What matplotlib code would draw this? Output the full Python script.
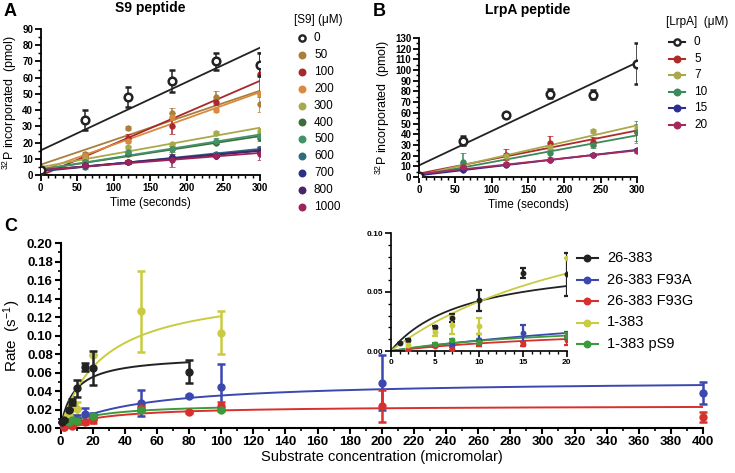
import numpy as np
import matplotlib
matplotlib.use("Agg")
import matplotlib.pyplot as plt
from matplotlib.lines import Line2D
from matplotlib.ticker import MultipleLocator, FormatStrFormatter

plt.rcParams['font.family'] = ['Liberation Sans', 'DejaVu Sans']
plt.rcParams['mathtext.fontset'] = 'custom'
plt.rcParams['mathtext.rm'] = 'Liberation Sans'
plt.rcParams['mathtext.it'] = 'Liberation Sans:italic'
plt.rcParams['mathtext.bf'] = 'Liberation Sans:bold'

# ---- panel A: S9 peptide, pmol vs time ----
time_s = [0, 60, 120, 180, 240, 300]
s9_conc = ['0', '50', '100', '200', '300', '400', '500', '600', '700', '800', '1000']
s9_colors = ['#222222', '#a8803c', '#a8282c', '#d98a40', '#a9a94c', '#3c6e3c',
             '#43936a', '#2f6b7f', '#2c2f84', '#4b2466', '#9c2458']
s9_vals = [
    [3, 34, 48, 58, 70, 68],
    [3, 13, 29, 38, 48, 44],
    [2, 11, 23, 30, 45, 62],
    [2, 12, 21, 36, 40, 50],
    [3, 10, 17, 19, 26, 27],
    [2, 8, 13, 16, 20, 23],
    [2, 8, 14, 16, 21, 24],
    [2, 5, 8, 11, 13, 16],
    [2, 6, 8, 11, 12, 15],
    [2, 6, 8, 10, 12, 15],
    [2, 6, 8, 9, 12, 13],
]
s9_err = [
    [1, 6, 6, 7, 5, 7],
    [0, 1, 1, 3, 4, 5],
    [0, 1, 2, 5, 2, 14],
    [0, 1, 1, 2, 1, 2],
    [0, 1, 1, 1, 1, 2],
    [0, 1, 1, 2, 1, 2],
    [0, 1, 1, 3, 2, 2],
    [0, 1, 1, 1, 1, 2],
    [0, 1, 1, 1, 1, 2],
    [0, 1, 1, 1, 1, 2],
    [0, 1, 1, 4, 1, 4],
]

# ---- panel B: LrpA peptide ----
lrpa_conc = ['0', '5', '7', '10', '15', '20']
lrpa_colors = ['#222222', '#b02a2a', '#a9a94c', '#3c8a5a', '#2c2f90', '#a8285c']
lrpa_vals = [
    [1, 34, 58, 78, 77, 106],
    [1, 11, 21, 32, 33, 42],
    [1, 12, 20, 28, 43, 46],
    [1, 14, 12, 22, 30, 42],
    [1, 7, 11, 16, 21, 25],
    [1, 9, 12, 16, 21, 24],
]
lrpa_err = [
    [1, 4, 2, 4, 4, 19],
    [0, 2, 5, 6, 4, 8],
    [0, 2, 2, 2, 2, 4],
    [0, 8, 2, 3, 3, 10],
    [0, 1, 1, 1, 1, 2],
    [0, 1, 1, 1, 1, 2],
]

# ---- panel C: rate vs substrate ----
c_names = ['26-383', '26-383 F93A', '26-383 F93G', '1-383', '1-383 pS9']
c_colors = ['#222222', '#3a48b0', '#d8302c', '#c9cc40', '#3c9a3c']
c_x = [
    [1, 2, 5, 7, 10, 15, 20, 80],
    [2, 5, 7, 10, 15, 20, 50, 80, 100, 200, 400],
    [2, 5, 7, 10, 15, 20, 50, 80, 100, 200, 400],
    [2, 5, 7, 10, 20, 50, 100],
    [5, 7, 10, 20, 50, 100],
]
c_y = [
    [0.007, 0.009, 0.020, 0.028, 0.043, 0.066, 0.065, 0.061],
    [0.001, 0.005, 0.005, 0.009, 0.015, 0.013, 0.027, 0.035, 0.044, 0.049, 0.038],
    [0.001, 0.004, 0.002, 0.007, 0.006, 0.009, 0.022, 0.017, 0.024, 0.024, 0.012],
    [0.005, 0.016, 0.022, 0.021, 0.079, 0.126, 0.103],
    [0.006, 0.009, 0.008, 0.013, 0.020, 0.020],
]
c_err = [
    [0, 0.001, 0.001, 0.003, 0.009, 0.004, 0.018, 0.012],
    [0, 0.001, 0.002, 0.005, 0.007, 0.003, 0.014, 0.001, 0.025, 0.030, 0.012],
    [0, 0.001, 0.001, 0.003, 0.002, 0.004, 0.003, 0.001, 0.004, 0.017, 0.005],
    [0.003, 0.003, 0.008, 0.007, 0, 0.044, 0.023],
    [0.001, 0.001, 0.002, 0.002, 0.003, 0.002],
]
# Michaelis-Menten fits: Vmax, Km, max x of curve
c_vmax = [0.0787, 0.052, 0.0243, 0.153, 0.0266]
c_km = [8.6, 48, 27.8, 26.6, 20.8]
c_xmax = [80, 400, 400, 100, 100]
c_z = [6, 4, 4, 3, 4]

W, H = 735, 473
fig = plt.figure(figsize=(W / 100, H / 100), dpi=100)


def px_axes(left, right, top, bottom):
    return fig.add_axes([left / W, 1 - bottom / H, (right - left) / W, (bottom - top) / H])


def style(ax, size, lw=1.3):
    for s in ['top', 'right']:
        ax.spines[s].set_visible(False)
    for s in ['left', 'bottom']:
        ax.spines[s].set_linewidth(lw)
    ax.tick_params(which='major', length=4, width=lw, labelsize=size, pad=1.5)
    ax.tick_params(which='minor', length=2.5, width=lw * 0.8)
    for lbl in ax.get_xticklabels() + ax.get_yticklabels():
        lbl.set_fontweight('bold')


def fig_legend(title, tx, ty, entries, mx, x0, x1, txt_x, y0, dy, fs):
    if title:
        fig.text(tx / W, 1 - ty / H, title, fontsize=fs, va='center', ha='left')
    for i, (lab, col, mfc, line) in enumerate(entries):
        y = 1 - (y0 + i * dy) / H
        if line:
            fig.add_artist(Line2D([x0 / W, x1 / W], [y, y], color=col, lw=1.5,
                                  transform=fig.transFigure))
        fig.add_artist(Line2D([mx / W], [y], marker='o', color=col, mfc=mfc,
                              mec=col, ms=4.5 if mfc == 'white' else 4,
                              mew=1.7, transform=fig.transFigure))
        fig.text(txt_x / W, y, lab, fontsize=fs, va='center', ha='left')


def time_panel(ax, vals, errs, colors, ymax):
    xs = np.array(time_s)
    xf = np.linspace(0, 300, 50)
    for i, (v, e, c) in enumerate(zip(vals, errs, colors)):
        k, b = np.polyfit(xs, v, 1)
        ax.plot(xf, k * xf + b, color=c, lw=1.3, zorder=2)
        open_m = i == 0
        ax.errorbar(xs, v, yerr=e, fmt='o', color=c, ms=5.5 if open_m else 4,
                    mfc='white' if open_m else c, mec=c, mew=1.8 if open_m else 0.5,
                    elinewidth=1.1, capsize=2.5, capthick=1.1, zorder=3 + (i == 0))
    ax.set_xlim(0, 300)
    ax.set_ylim(0, ymax)
    ax.xaxis.set_major_locator(MultipleLocator(50))
    ax.xaxis.set_minor_locator(MultipleLocator(10))
    ax.yaxis.set_major_locator(MultipleLocator(10))
    ax.yaxis.set_minor_locator(MultipleLocator(5))
    ax.set_xlabel('Time (seconds)', fontsize=8.5, labelpad=3)
    ax.set_ylabel(r'$^{32}$P incorporated  (pmol)', fontsize=9, labelpad=2)
    style(ax, 7)


# panel A
axA = px_axes(40.7, 260, 29, 175)
time_panel(axA, s9_vals, s9_err, s9_colors, 90)
axA.set_title('S9 peptide', fontsize=10, fontweight='bold', pad=12)
fig_legend('[S9] (μM)', 294, 20,
           [(c, col, 'white' if i == 0 else col, False) for i, (c, col) in enumerate(zip(s9_conc, s9_colors))],
           302, 0, 0, 314, 38, 16.9, 8.5)

# panel B
axB = px_axes(419, 637, 38, 177)
time_panel(axB, lrpa_vals, lrpa_err, lrpa_colors, 130)
axB.set_title('LrpA peptide', fontsize=10, fontweight='bold', pad=17)
fig_legend('[LrpA]  (μM)', 666, 22,
           [(c, col, 'white' if i == 0 else col, True) for i, (c, col) in enumerate(zip(lrpa_conc, lrpa_colors))],
           677, 669, 685, 694, 42, 16.6, 8.5)

# panel C main
axC = px_axes(60.5, 703, 243, 428)
for xv, yv, ev, col, vm, km, xm, z in zip(c_x, c_y, c_err, c_colors, c_vmax, c_km, c_xmax, c_z):
    xf = np.linspace(0, xm, 300)
    axC.plot(xf, vm * xf / (km + xf), color=col, lw=1.4, zorder=2)
    axC.errorbar(xv, yv, yerr=ev, fmt='o', color=col, ms=5, mec=col,
                 elinewidth=1.8, capsize=3, capthick=1.8, zorder=z, clip_on=False)
axC.set_xlim(0, 400)
axC.set_ylim(0, 0.2)
axC.xaxis.set_major_locator(MultipleLocator(20))
axC.xaxis.set_minor_locator(MultipleLocator(10))
axC.yaxis.set_major_locator(MultipleLocator(0.02))
axC.yaxis.set_minor_locator(MultipleLocator(0.01))
axC.yaxis.set_major_formatter(FormatStrFormatter('%.2f'))
axC.set_xlabel('Substrate concentration (micromolar)', fontsize=10.5, labelpad=2)
axC.set_ylabel(r'Rate  (s$^{-1}$)', fontsize=11, labelpad=3)
style(axC, 9.5, lw=1.5)

# inset
axI = px_axes(390.7, 566.7, 233, 351)
for xv, yv, ev, col, vm, km in zip(c_x, c_y, c_err, c_colors, c_vmax, c_km):
    xf = np.linspace(0, 20, 200)
    axI.plot(xf, vm * xf / (km + xf), color=col, lw=1.3, zorder=2)
    axI.errorbar(xv, yv, yerr=ev, fmt='o', color=col, ms=3.2, mec=col,
                 elinewidth=1.6, capsize=2.2, capthick=1.6, zorder=3)
axI.set_xlim(0, 20)
axI.set_ylim(0, 0.1)
axI.xaxis.set_major_locator(MultipleLocator(5))
axI.xaxis.set_minor_locator(MultipleLocator(1))
axI.yaxis.set_major_locator(MultipleLocator(0.05))
axI.yaxis.set_minor_locator(MultipleLocator(0.01))
axI.yaxis.set_major_formatter(FormatStrFormatter('%.2f'))
axI.patch.set_alpha(0)
style(axI, 6, lw=1.2)

fig_legend(None, 0, 0, [(n, c, c, True) for n, c in zip(c_names, c_colors)],
           587, 577, 598, 607, 258, 21.5, 10.5)

# panel letters
for lab, x, y in [('A', 4, 11), ('B', 373, 11), ('C', 4, 226)]:
    fig.text(x / W, 1 - y / H, lab, fontsize=13, fontweight='bold', va='center', ha='left')

fig.savefig('out.png', dpi=100)
